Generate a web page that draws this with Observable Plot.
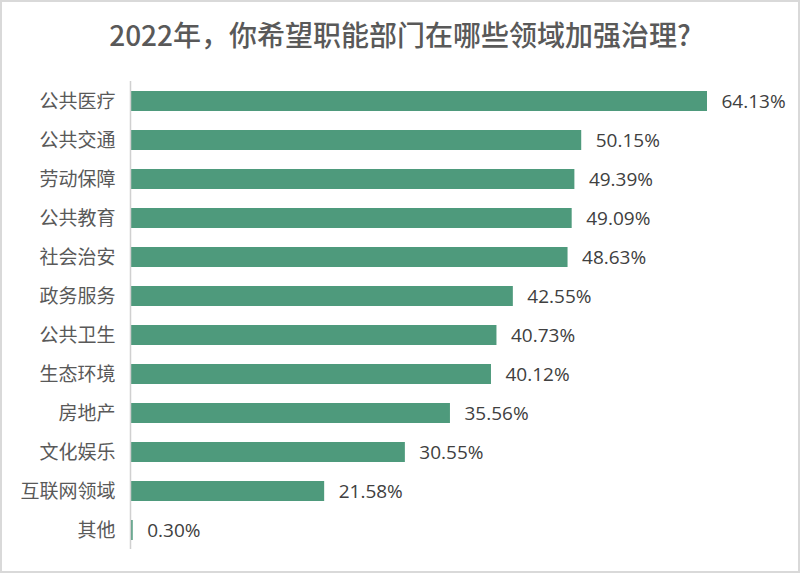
<!DOCTYPE html>
<html>
<head>
<meta charset="utf-8">
<script src="https://cdn.jsdelivr.net/npm/d3@7"></script>
<script src="https://cdn.jsdelivr.net/npm/@observablehq/plot@0.6"></script>
<style>
  html, body { margin: 0; padding: 0; background: #fff; }
  #wrap { position: relative; width: 800px; height: 573px; overflow: hidden; background: #fff; }
  #title { height: 60px; box-sizing: border-box; padding-top: 20px; text-align: center;
    font-family: "Noto Sans CJK SC", sans-serif; font-size: 28px; font-weight: 500; color: #595959; line-height: 1; }
  #frame { position: absolute; left: 0; top: 0; width: 800px; height: 573px; box-sizing: border-box;
    border: 2px solid #d9d9d9; pointer-events: none; }
  svg { display: block; }
</style>
</head>
<body>
<div id="wrap">
  <div id="title">2022年，你希望职能部门在哪些领域加强治理?</div>
  <div id="chart"></div>
  <div id="frame"></div>
</div>
<script>
const categories = ["公共医疗", "公共交通", "劳动保障", "公共教育", "社会治安", "政务服务", "公共卫生", "生态环境", "房地产", "文化娱乐", "互联网领域", "其他"];
const values = [64.13, 50.15, 49.39, 49.09, 48.63, 42.55, 40.73, 40.12, 35.56, 30.55, 21.58, 0.30];
const valueLabels = ["64.13%", "50.15%", "49.39%", "49.09%", "48.63%", "42.55%", "40.73%", "40.12%", "35.56%", "30.55%", "21.58%", "0.30%"];

const data = categories.map((c, i) => ({category: c, value: values[i], label: valueLabels[i]}));

const chart = Plot.plot({
  width: 800,
  height: 513,
  marginLeft: 130,
  marginRight: 93,
  marginTop: 21,
  marginBottom: 24,
  x: {domain: [0, 64.13], axis: null},
  y: {domain: categories, paddingInner: 0.5, paddingOuter: 0.25, label: null, tickSize: 0, tickPadding: 15},
  style: {fontFamily: "'Noto Sans CJK SC', sans-serif", fontSize: "19px", color: "#595959", background: "#fff"},
  marks: [
    Plot.barX(data, {x: "value", y: "category", fill: "#4e9a7c"}),
    Plot.ruleX([0], {stroke: "#d0d0d0", strokeWidth: 1.5}),
    Plot.text(data, {x: "value", y: "category", text: "label", textAnchor: "start", dx: 14,
      fill: "#404040", fontSize: 19, fontFamily: "'Open Sans', sans-serif"}),
    Plot.axisY({tickSize: 0, tickPadding: 15, label: null, fontSize: 19, fill: "#595959"})
  ]
});
document.getElementById("chart").appendChild(chart);
</script>
</body>
</html>
